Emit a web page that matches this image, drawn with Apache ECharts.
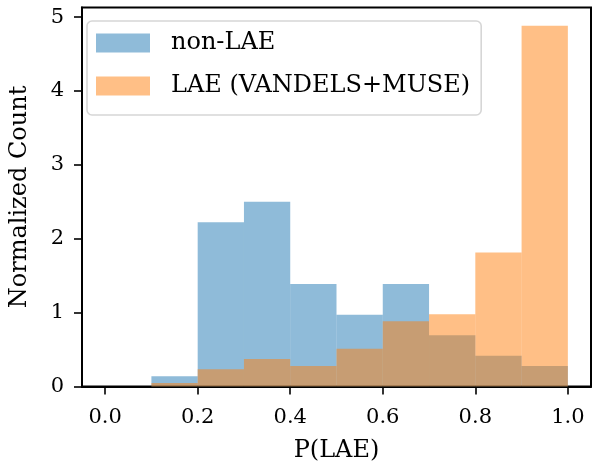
<!DOCTYPE html>
<html>
<head>
<meta charset="utf-8">
<script src="https://cdn.jsdelivr.net/npm/echarts@6/dist/echarts.min.js"></script>
<style>
    html, body { margin: 0; padding: 0; background: #fff; }
    #chart { width: 593px; height: 468px; }
</style>
</head>
<body>
<div id="chart"></div>
<script>
// histogram bins: P(LAE) edges, 0.1 wide
var binStart = [0.0, 0.1, 0.2, 0.3, 0.4, 0.5, 0.6, 0.7, 0.8, 0.9];
var binEnd = [0.1, 0.2, 0.3, 0.4, 0.5, 0.6, 0.7, 0.8, 0.9, 1.0];
// normalized counts
var nonLae = [0, 0.139, 2.222, 2.5, 1.389, 0.972, 1.389, 0.694, 0.417, 0.278];
var lae = [0, 0.047, 0.233, 0.372, 0.279, 0.512, 0.884, 0.977, 1.814, 4.884];
var xTicks = [0, 0.2, 0.4, 0.6, 0.8, 1.0];
var yTicks = [0, 1, 2, 3, 4, 5];

var FONT = 'DejaVu Serif';
var blue = 'rgba(31,119,180,0.5)';
var orange = 'rgba(255,127,14,0.5)';

function makeData(vals) {
    var out = [];
    for (var i = 0; i < vals.length; i++) {
        out.push([binStart[i], binEnd[i], vals[i]]);
    }
    return out;
}

function histItem(color) {
    return function (params, api) {
        var p0 = api.coord([api.value(0), api.value(2)]);
        var p1 = api.coord([api.value(1), 0]);
        return {
            type: 'rect',
            shape: { x: p0[0], y: p0[1], width: p1[0] - p0[0], height: p1[1] - p0[1] },
            style: { fill: color }
        };
    };
}

var chart = echarts.init(document.getElementById('chart'));

var option = {
    backgroundColor: '#fff',
    animation: false,
    grid: {
        left: 73,
        right: 2,
        top: 7.5,
        bottom: 81.5,
        show: true,
        borderColor: '#000',
        borderWidth: 2,
        backgroundColor: 'transparent'
    },
    legend: {
        orient: 'vertical',
        left: 87,
        top: 21,
        width: 405,
        padding: [10, 11, 17, 9],
        itemWidth: 54,
        itemHeight: 19,
        itemGap: 19,
        borderColor: '#d6d6d6',
        borderWidth: 1.6,
        borderRadius: 5,
        backgroundColor: 'rgba(255,255,255,0.8)',
        textStyle: {
            fontFamily: FONT,
            fontSize: 24,
            color: '#000',
            padding: [0, 0, 0, 16],
            lineHeight: 19
        },
        data: [
            { name: 'non-LAE', icon: 'rect', itemStyle: { color: blue } },
            { name: 'LAE (VANDELS+MUSE)', icon: 'rect', itemStyle: { color: orange } }
        ]
    },
    xAxis: {
        type: 'value',
        min: -0.05,
        max: 1.05,
        name: 'P(LAE)',
        nameLocation: 'middle',
        nameGap: 52,
        nameTextStyle: { fontFamily: FONT, fontSize: 24, color: '#000' },
        splitLine: { show: false },
        axisLine: { onZero: false, lineStyle: { color: '#000', width: 2 } },
        axisTick: {
            customValues: xTicks,
            length: 8,
            lineStyle: { color: '#000', width: 1.6 }
        },
        axisLabel: {
            customValues: xTicks,
            margin: 21,
            fontFamily: FONT,
            fontSize: 21,
            color: '#000',
            formatter: function (v) { return v.toFixed(1); }
        }
    },
    yAxis: {
        type: 'value',
        min: 0,
        max: 5.13,
        name: 'Normalized Count',
        nameLocation: 'middle',
        nameGap: 50,
        nameTextStyle: { fontFamily: FONT, fontSize: 24, color: '#000' },
        splitLine: { show: false },
        axisLine: { onZero: false, lineStyle: { color: '#000', width: 2 } },
        axisTick: {
            customValues: yTicks,
            length: 8,
            lineStyle: { color: '#000', width: 1.6 }
        },
        axisLabel: {
            customValues: yTicks,
            margin: 18,
            fontFamily: FONT,
            fontSize: 21,
            color: '#000'
        }
    },
    series: [
        {
            name: 'non-LAE',
            type: 'custom',
            renderItem: histItem(blue),
            itemStyle: { color: blue },
            encode: { x: [0, 1], y: 2 },
            data: makeData(nonLae)
        },
        {
            name: 'LAE (VANDELS+MUSE)',
            type: 'custom',
            renderItem: histItem(orange),
            itemStyle: { color: orange },
            encode: { x: [0, 1], y: 2 },
            data: makeData(lae)
        }
    ]
};

chart.setOption(option);
window.addEventListener('resize', function () {
    chart.resize();
});
</script>
</body>
</html>
